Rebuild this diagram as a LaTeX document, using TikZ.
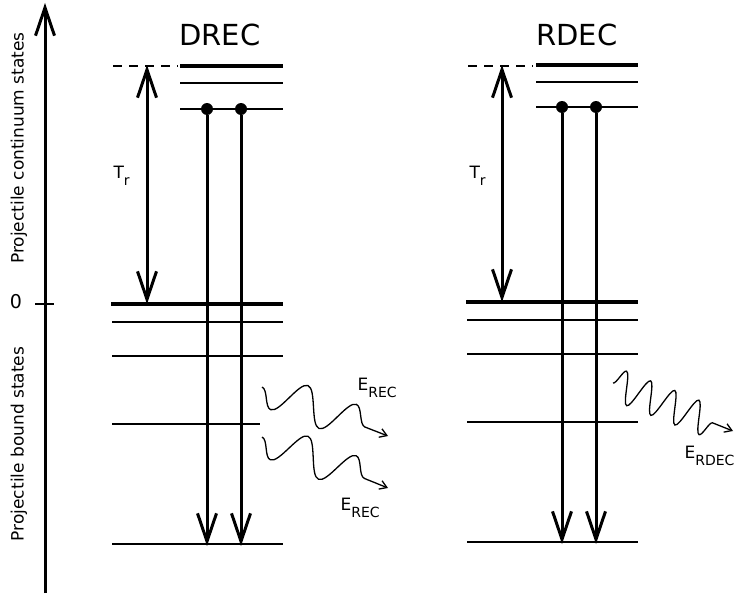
\documentclass[tikz,border=0pt]{standalone}
\usepackage{fontspec}
\setmainfont{DejaVu Sans}
\usetikzlibrary{arrows.meta,decorations.pathmorphing,positioning}
\newcommand\lowsub[1]{\raisebox{-7pt}{\fontsize{14}{16}\selectfont #1}}

\begin{document}
\begin{tikzpicture}[x=1pt,y=-1pt,>={Straight Barb[length=28pt,width=19pt]},
  lvl/.style={line width=1.5pt},
  gnd/.style={line width=4pt},
  jump/.style={line width=3pt,->},
  dot/.style={circle,fill,inner sep=0pt,minimum size=12pt},
  photon/.style args={#1/#2}{line width=1.3pt,decorate,decoration={snake,amplitude=#2,segment length=#1,post length=14pt},-{Straight Barb[length=7pt,width=9pt]}},
  lbl/.style={font=\fontsize{17}{20}\selectfont},
  ttl/.style={font=\fontsize{29}{34}\selectfont}]
\useasboundingbox (0,0) rectangle (739,597);
% energy axis
\coordinate (abot) at (45,593); \coordinate (atop) at (45,3);
\draw[jump] (abot) -- (atop);
\draw[line width=2.8pt] (35,304) -- (54,304);
\node[font=\fontsize{19}{22}\selectfont] (zero) at (16,302) {0};
\node[lbl,rotate=90] (cont) at (19,148) {Projectile continuum states};
\node[lbl,rotate=90] (bound) at (19,444) {Projectile bound states};
% DREC
\node[ttl] (dtitle) at (220,35) {DREC};
\draw[lvl,dash pattern=on 9pt off 7pt] (113,66) -- (178,66);
\draw[gnd] (180,66) -- (283,66);
\draw[lvl] (180,83) -- (283,83);
\draw[lvl] (180,109) -- (283,109);
\draw[gnd] (111,304) -- (283,304);
\foreach \y in {322,356,544} \draw[lvl] (112,\y) -- (283,\y);
\draw[lvl] (112,424) -- (260,424);
\node[dot] (dd1) at (207,109) {}; \node[dot] (dd2) at (241,109) {};
\coordinate (df1) at (207,546); \coordinate (df2) at (241,546);
\draw[jump] (dd1) -- (df1); \draw[jump] (dd2) -- (df2);
\coordinate (dtr0) at (147,304); \coordinate (dtr1) at (147,65);
\draw[line width=3pt,<->] (dtr0) -- (dtr1);
\node[lbl,anchor=base west] (dtr) at (110,178) {T\lowsub{r}};
\coordinate (dw1a) at (262,387); \coordinate (dw1b) at (388,436);
\coordinate (dw2a) at (262,437); \coordinate (dw2b) at (388,488);
\draw[photon=52pt/-18pt] (dw1a) -- (dw1b); \draw[photon=52pt/-18pt] (dw2a) -- (dw2b);
\node[lbl,anchor=base west] (de1) at (354,390) {E\lowsub{REC}};
\node[lbl,anchor=base west] (de2) at (337,510) {E\lowsub{REC}};
% RDEC
\node[ttl] (rtitle) at (577,35) {RDEC};
\draw[lvl,dash pattern=on 9pt off 7pt] (468,66) -- (533,66);
\draw[gnd] (536,65) -- (638,65);
\draw[lvl] (536,82) -- (638,82);
\draw[lvl] (536,107) -- (638,107);
\draw[gnd] (466,302) -- (638,302);
\foreach \y in {320,354,422,542} \draw[lvl] (467,\y) -- (638,\y);
\node[dot] (rd1) at (562,107) {}; \node[dot] (rd2) at (596,107) {};
\coordinate (rf1) at (562,544); \coordinate (rf2) at (596,544);
\draw[jump] (rd1) -- (rf1); \draw[jump] (rd2) -- (rf2);
\coordinate (rtr0) at (502,302); \coordinate (rtr1) at (502,65);
\draw[line width=3pt,<->] (rtr0) -- (rtr1);
\node[lbl,anchor=base west] (rtr) at (466,178) {T\lowsub{r}};
\coordinate (rwa) at (613,383); \coordinate (rwb) at (733,431);
\draw[photon=26pt/16pt] (rwa) -- (rwb);
\node[lbl,anchor=base west] (re) at (681,458) {E\lowsub{RDEC}};
\end{tikzpicture}
\end{document}
